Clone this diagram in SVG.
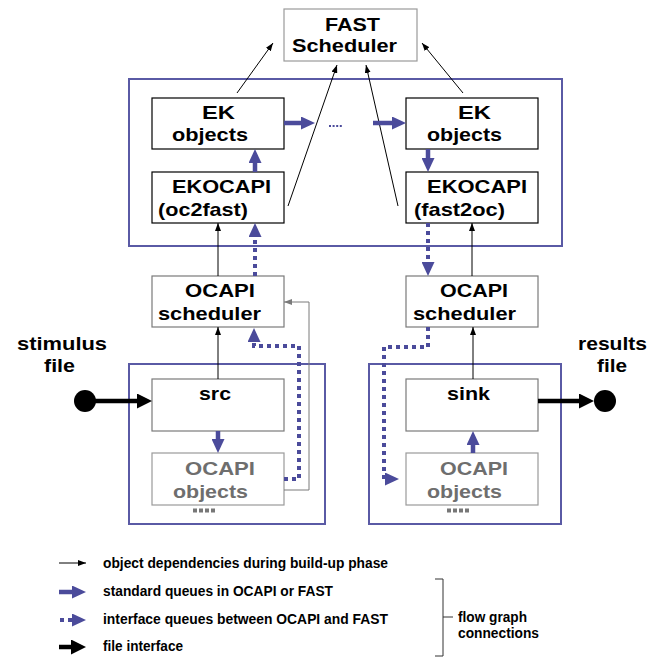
<svg xmlns="http://www.w3.org/2000/svg" width="664" height="657" viewBox="0 0 664 657">
  <style>
    .lbl { font-family: "Liberation Sans", Arial, sans-serif; font-weight: bold; font-size: 19px; fill: #000; }
    .grey { fill: #6e6e6e; }
    .leg { font-family: "Liberation Sans", Arial, sans-serif; font-weight: bold; font-size: 14px; fill: #000; }
    .box { fill: #fff; stroke: #000; stroke-width: 1.2; }
    .gbox { fill: #fff; stroke: #7a7a7a; stroke-width: 1.2; }
    .lbox { fill: #fff; stroke: #9a9a9a; stroke-width: 1.2; }
    .frame { fill: none; stroke: #5a5aa5; stroke-width: 2; }
    .thin { fill: none; stroke: #000; stroke-width: 1; }
    .thing { fill: none; stroke: #7a7a7a; stroke-width: 1; }
    .queue { fill: none; stroke: #4b4b9b; stroke-width: 4.5; }
    .iface { fill: none; stroke: #4b4b9b; stroke-width: 4; stroke-dasharray: 4 4; }
    .file { fill: none; stroke: #000; stroke-width: 4.5; }
    .more { fill: none; stroke: #777; stroke-width: 4; stroke-dasharray: 4 2; }
  </style>
  <defs>
    <marker id="thinHead" markerUnits="userSpaceOnUse" markerWidth="8" markerHeight="6" refX="8" refY="3" orient="auto">
      <path d="M0,0 L8,3 L0,6 z" fill="#000"/>
    </marker>
    <marker id="thinHeadGrey" markerUnits="userSpaceOnUse" markerWidth="8" markerHeight="6" refX="8" refY="3" orient="auto">
      <path d="M0,0 L8,3 L0,6 z" fill="#7a7a7a"/>
    </marker>
    <marker id="queueHead" markerUnits="userSpaceOnUse" markerWidth="14" markerHeight="13" refX="0" refY="6.5" orient="auto">
      <path d="M0,0 L14,6.5 L0,13 z" fill="#4b4b9b"/>
    </marker>
    <marker id="fileHead" markerUnits="userSpaceOnUse" markerWidth="15" markerHeight="15" refX="0" refY="7.5" orient="auto">
      <path d="M0,0 L15,7.5 L0,15 z" fill="#000"/>
    </marker>
  </defs>

  <rect width="664" height="657" fill="#fff"/>

  <!-- enclosing regions -->
  <rect class="frame" x="129" y="79" width="433" height="167"/>
  <rect class="frame" x="129" y="364" width="196" height="160"/>
  <rect class="frame" x="369" y="364" width="192" height="160"/>

  <!-- nodes -->
  <g id="fast-scheduler">
    <rect class="lbox" x="284" y="9" width="133" height="52"/>
    <text class="lbl" x="325" y="31" textLength="55" lengthAdjust="spacingAndGlyphs">FAST</text>
    <text class="lbl" x="292" y="52" textLength="105" lengthAdjust="spacingAndGlyphs">Scheduler</text>
  </g>
  <g id="ek-left">
    <rect class="box" x="152" y="98" width="132" height="51"/>
    <text class="lbl" x="202" y="119" textLength="33" lengthAdjust="spacingAndGlyphs">EK</text>
    <text class="lbl" x="172" y="141" textLength="76" lengthAdjust="spacingAndGlyphs">objects</text>
  </g>
  <g id="ekocapi-left">
    <rect class="box" x="152" y="172" width="132" height="51"/>
    <text class="lbl" x="172" y="193" textLength="99" lengthAdjust="spacingAndGlyphs">EKOCAPI</text>
    <text class="lbl" x="158" y="216" textLength="90" lengthAdjust="spacingAndGlyphs">(oc2fast)</text>
  </g>
  <g id="ek-right">
    <rect class="box" x="406" y="98" width="132" height="51"/>
    <text class="lbl" x="458" y="119" textLength="33" lengthAdjust="spacingAndGlyphs">EK</text>
    <text class="lbl" x="427" y="141" textLength="75" lengthAdjust="spacingAndGlyphs">objects</text>
  </g>
  <g id="ekocapi-right">
    <rect class="box" x="406" y="172" width="132" height="51"/>
    <text class="lbl" x="427" y="193" textLength="100" lengthAdjust="spacingAndGlyphs">EKOCAPI</text>
    <text class="lbl" x="414" y="216" textLength="91" lengthAdjust="spacingAndGlyphs">(fast2oc)</text>
  </g>
  <g id="ocapi-scheduler-left">
    <rect class="gbox" x="152" y="276" width="132" height="51"/>
    <text class="lbl" x="185" y="297" textLength="70" lengthAdjust="spacingAndGlyphs">OCAPI</text>
    <text class="lbl" x="158" y="320" textLength="103" lengthAdjust="spacingAndGlyphs">scheduler</text>
  </g>
  <g id="ocapi-scheduler-right">
    <rect class="gbox" x="406" y="276" width="132" height="51"/>
    <text class="lbl" x="440" y="297" textLength="68" lengthAdjust="spacingAndGlyphs">OCAPI</text>
    <text class="lbl" x="413" y="320" textLength="103" lengthAdjust="spacingAndGlyphs">scheduler</text>
  </g>
  <g id="src">
    <rect class="gbox" x="152" y="379" width="132" height="52"/>
    <text class="lbl" x="199" y="400" textLength="32" lengthAdjust="spacingAndGlyphs">src</text>
  </g>
  <g id="ocapi-objects-left">
    <rect class="lbox" x="152" y="453" width="132" height="52"/>
    <text class="lbl grey" x="185" y="475" textLength="70" lengthAdjust="spacingAndGlyphs">OCAPI</text>
    <text class="lbl grey" x="173" y="498" textLength="75" lengthAdjust="spacingAndGlyphs">objects</text>
    <line class="more" x1="193" y1="510.5" x2="215" y2="510.5"/>
  </g>
  <g id="sink">
    <rect class="gbox" x="406" y="379" width="132" height="52"/>
    <text class="lbl" x="447" y="400" textLength="43" lengthAdjust="spacingAndGlyphs">sink</text>
  </g>
  <g id="ocapi-objects-right">
    <rect class="lbox" x="406" y="453" width="132" height="52"/>
    <text class="lbl grey" x="440" y="475" textLength="68" lengthAdjust="spacingAndGlyphs">OCAPI</text>
    <text class="lbl grey" x="427" y="498" textLength="75" lengthAdjust="spacingAndGlyphs">objects</text>
    <line class="more" x1="447" y1="510.5" x2="469" y2="510.5"/>
  </g>
  <g id="stimulus-file">
    <text class="lbl" x="17" y="350" textLength="90" lengthAdjust="spacingAndGlyphs">stimulus</text>
    <text class="lbl" x="44" y="372" textLength="31" lengthAdjust="spacingAndGlyphs">file</text>
    <circle cx="85" cy="401" r="11" fill="#000"/>
  </g>
  <g id="results-file">
    <text class="lbl" x="578" y="350" textLength="69" lengthAdjust="spacingAndGlyphs">results</text>
    <text class="lbl" x="597" y="372" textLength="30" lengthAdjust="spacingAndGlyphs">file</text>
    <circle cx="605" cy="401" r="11" fill="#000"/>
  </g>

  <!-- connectors -->
  <g id="connectors">
    <!-- build-up dependencies -->
    <line class="thin" x1="237" y1="93" x2="273" y2="43" marker-end="url(#thinHead)"/>
    <line class="thin" x1="463" y1="93" x2="422" y2="43" marker-end="url(#thinHead)"/>
    <line class="thin" x1="288" y1="206" x2="337" y2="65" marker-end="url(#thinHead)"/>
    <line class="thin" x1="398" y1="206" x2="366" y2="65" marker-end="url(#thinHead)"/>
    <line class="thin" x1="218" y1="276" x2="218" y2="223" marker-end="url(#thinHead)"/>
    <line class="thin" x1="472" y1="276" x2="472" y2="223" marker-end="url(#thinHead)"/>
    <line class="thin" x1="218" y1="379" x2="218" y2="327" marker-end="url(#thinHead)"/>
    <line class="thin" x1="473" y1="379" x2="473" y2="327" marker-end="url(#thinHead)"/>
    <path class="thing" d="M284,490 H309 V302 H284" marker-end="url(#thinHeadGrey)"/>

    <!-- standard queues -->
    <line class="queue" x1="284" y1="123" x2="301" y2="123" marker-end="url(#queueHead)"/>
    <line x1="329" y1="126" x2="342" y2="126" stroke="#4b4b9b" stroke-width="2" stroke-dasharray="2 1.6"/>
    <line class="queue" x1="373" y1="123" x2="392" y2="123" marker-end="url(#queueHead)"/>
    <line class="queue" x1="255" y1="172" x2="255" y2="163" marker-end="url(#queueHead)"/>
    <line class="queue" x1="428" y1="149" x2="428" y2="158" marker-end="url(#queueHead)"/>
    <line class="queue" x1="218" y1="431" x2="218" y2="439" marker-end="url(#queueHead)"/>
    <line class="queue" x1="473" y1="453" x2="473" y2="445" marker-end="url(#queueHead)"/>

    <!-- interface queues -->
    <path class="iface" d="M255,276 V237" marker-end="url(#queueHead)"/>
    <path class="iface" d="M428,223 V262" marker-end="url(#queueHead)"/>
    <path class="iface" d="M284,479 H299 V346 H254 V342" marker-end="url(#queueHead)"/>
    <path class="iface" d="M428,327 V347 H384 V479 H385" marker-end="url(#queueHead)"/>

    <!-- file interfaces -->
    <line class="file" x1="85" y1="401" x2="137" y2="401" marker-end="url(#fileHead)"/>
    <line class="file" x1="538" y1="401" x2="579" y2="401" marker-end="url(#fileHead)"/>
  </g>

  <!-- legend -->
  <g id="legend">
    <line class="thin" x1="59" y1="563" x2="86" y2="563" marker-end="url(#thinHead)"/>
    <text class="leg" x="103" y="568" textLength="285" lengthAdjust="spacingAndGlyphs">object dependencies during build-up phase</text>
    <line class="queue" x1="59" y1="592" x2="72" y2="592" marker-end="url(#queueHead)"/>
    <text class="leg" x="103" y="596" textLength="230" lengthAdjust="spacingAndGlyphs">standard queues in OCAPI or FAST</text>
    <line class="iface" x1="60" y1="620" x2="72" y2="620" marker-end="url(#queueHead)"/>
    <text class="leg" x="103" y="624" textLength="285" lengthAdjust="spacingAndGlyphs">interface queues between OCAPI and FAST</text>
    <line class="file" x1="59" y1="647" x2="71" y2="647" marker-end="url(#fileHead)"/>
    <text class="leg" x="103" y="651" textLength="80" lengthAdjust="spacingAndGlyphs">file interface</text>
    <path d="M435,579 H443 V656 H435 M443,617 H453" fill="none" stroke="#333" stroke-width="1"/>
    <text class="leg" x="458" y="622" textLength="69" lengthAdjust="spacingAndGlyphs">flow graph</text>
    <text class="leg" x="458" y="638" textLength="81" lengthAdjust="spacingAndGlyphs">connections</text>
  </g>
</svg>
